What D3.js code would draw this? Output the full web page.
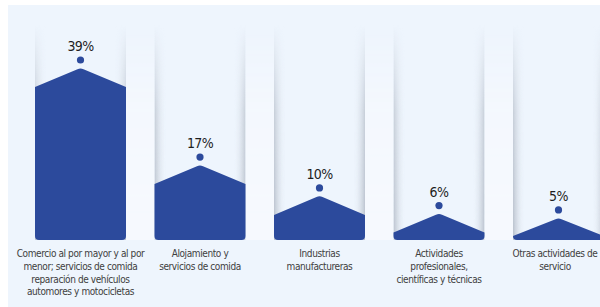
<!DOCTYPE html>
<html>
<head>
<meta charset="utf-8">
<script src="https://cdn.jsdelivr.net/npm/d3@7"></script>
<style>
  body { margin: 0; background: #ffffff; }
  svg { display: block; }
</style>
</head>
<body>
<script>
// data
var categories = ["Comercio", "Alojamiento", "Industrias", "Actividades", "Otras"];
var values = [39, 17, 10, 6, 5];
var valueLabels = ["39%", "17%", "10%", "6%", "5%"];
var categoryLines = [
  ["Comercio al por mayor y al por", "menor; servicios de comida", "reparación de vehículos", "automores y motocicletas"],
  ["Alojamiento y", "servicios de comida"],
  ["Industrias", "manufactureras"],
  ["Actividades", "profesionales,", "científicas y técnicas"],
  ["Otras actividades de", "servicio"]
];

var width = 600, height = 307;
var barColor = "#2c4a9c";
var bottom = 240;
var roofH = 19;
var fontNarrow = "'Liberation Sans Narrow', 'DejaVu Sans Condensed', sans-serif";

var svg = d3.select("body").append("svg")
  .attr("width", width)
  .attr("height", height);

var defs = svg.append("defs");

// side shading inside each column
var hg = defs.append("linearGradient").attr("id", "sideShade")
  .attr("x1", 0).attr("x2", 1).attr("y1", 0).attr("y2", 0);
hg.append("stop").attr("offset", "0%").attr("stop-color", "#b4bcc8").attr("stop-opacity", 0.9);
hg.append("stop").attr("offset", "5%").attr("stop-color", "#c9d0da").attr("stop-opacity", 0.55);
hg.append("stop").attr("offset", "13%").attr("stop-color", "#eef5fd").attr("stop-opacity", 0);
hg.append("stop").attr("offset", "87%").attr("stop-color", "#eef5fd").attr("stop-opacity", 0);
hg.append("stop").attr("offset", "95%").attr("stop-color", "#c9d0da").attr("stop-opacity", 0.55);
hg.append("stop").attr("offset", "100%").attr("stop-color", "#b4bcc8").attr("stop-opacity", 0.9);

// fade the shading out toward the top
var vg = defs.append("linearGradient").attr("id", "fadeV")
  .attr("x1", 0).attr("x2", 0).attr("y1", 0).attr("y2", 1);
vg.append("stop").attr("offset", "0%").attr("stop-color", "#fff").attr("stop-opacity", 0);
vg.append("stop").attr("offset", "40%").attr("stop-color", "#fff").attr("stop-opacity", 0.75);
vg.append("stop").attr("offset", "100%").attr("stop-color", "#fff").attr("stop-opacity", 1);

defs.append("mask").attr("id", "fadeMask")
  .attr("maskContentUnits", "objectBoundingBox")
  .append("rect")
  .attr("width", 1).attr("height", 1)
  .attr("fill", "url(#fadeV)");

// panel background
svg.append("rect")
  .attr("x", 8).attr("y", 5)
  .attr("width", width - 8).attr("height", height - 5)
  .attr("fill", "#eef5fd");

var x = d3.scaleBand()
  .domain(categories)
  .range([35, 604])
  .paddingInner(0.2385)
  .paddingOuter(0);

var y = d3.scaleLinear()
  .domain([0, 39])
  .range([bottom, 68]);

// whiter strips between the columns
var gaps = categories.slice(0, -1);
svg.selectAll(".gap")
  .data(gaps)
  .enter().append("rect")
  .attr("class", "gap")
  .attr("x", function(d) { return x(d) + x.bandwidth(); })
  .attr("y", 25)
  .attr("width", x.step() - x.bandwidth())
  .attr("height", bottom - 25)
  .attr("fill", "#f6f9fe")
  .attr("mask", "url(#fadeMask)");

var g = svg.selectAll(".col")
  .data(categories)
  .enter().append("g")
  .attr("class", "col");

// shaded columns
g.append("rect")
  .attr("x", function(d) { return x(d); })
  .attr("y", 25)
  .attr("width", x.bandwidth())
  .attr("height", bottom - 25)
  .attr("fill", "url(#sideShade)")
  .attr("mask", "url(#fadeMask)");

// bar shape: rect with a roof on top, rounded bottom corners
function barPath(d, i) {
  var x0 = x(d), x1 = x0 + x.bandwidth(), cx = (x0 + x1) / 2;
  var peak = y(values[i]);
  var shoulder = Math.min(peak + roofH, bottom - 4);
  var r = 4;
  return "M" + x0 + "," + shoulder +
    "L" + (cx - 3) + "," + (peak + 1.2) +
    "Q" + cx + "," + (peak - 0.3) + " " + (cx + 3) + "," + (peak + 1.2) +
    "L" + x1 + "," + shoulder +
    "L" + x1 + "," + (bottom - r) +
    "Q" + x1 + "," + bottom + " " + (x1 - r) + "," + bottom +
    "L" + (x0 + r) + "," + bottom +
    "Q" + x0 + "," + bottom + " " + x0 + "," + (bottom - r) + "Z";
}

g.append("path")
  .attr("d", barPath)
  .attr("fill", barColor);

g.append("circle")
  .attr("cx", function(d) { return x(d) + x.bandwidth() / 2; })
  .attr("cy", function(d, i) { return y(values[i]) - 8; })
  .attr("r", 3.6)
  .attr("fill", barColor);

g.append("text")
  .attr("x", function(d) { return x(d) + x.bandwidth() / 2; })
  .attr("y", function(d, i) { return y(values[i]) - 17; })
  .attr("text-anchor", "middle")
  .style("font-family", fontNarrow)
  .style("font-size", "14px")
  .style("letter-spacing", "-0.6px")
  .attr("fill", "#1e1e1e")
  .text(function(d, i) { return valueLabels[i]; });

g.append("text")
  .attr("text-anchor", "middle")
  .style("font-family", fontNarrow)
  .style("font-size", "10px")
  .style("letter-spacing", "-0.4px")
  .attr("fill", "#404040")
  .each(function(d, i) {
    var t = d3.select(this);
    var cx = x(d) + x.bandwidth() / 2;
    if (i === categories.length - 1) cx = Math.min(cx, 555);
    categoryLines[i].forEach(function(line, k) {
      t.append("tspan")
        .attr("x", cx)
        .attr("y", 257 + k * 12.8)
        .text(line);
    });
  });
</script>
</body>
</html>
